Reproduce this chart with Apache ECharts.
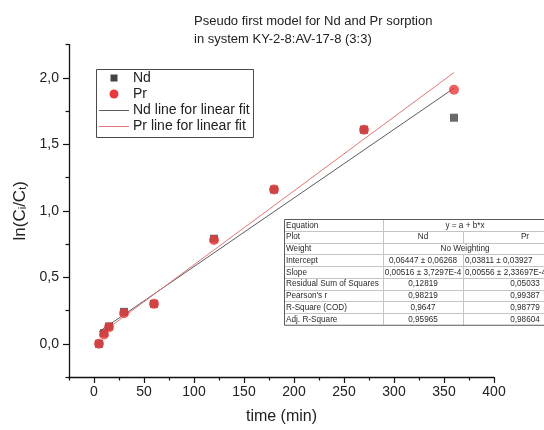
<!DOCTYPE html>
<html>
<head>
<meta charset="utf-8">
<style>
  html, body { margin: 0; padding: 0; background: #fff; }
  #chart { width: 544px; height: 430px; }
</style>
<script src="https://cdn.jsdelivr.net/npm/echarts@6/dist/echarts.min.js"></script>
</head>
<body>
<div id="chart"></div>
<script>
// Sampling times (min)
const times = [5, 10, 15, 30, 60, 120, 180, 270, 360];
// ln(Ci/Ct) for each metal
const ndValues = [0.00, 0.08, 0.13, 0.24, 0.30, 0.79, 1.16, 1.61, 1.70];
const prValues = [0.00, 0.07, 0.125, 0.23, 0.30, 0.78, 1.16, 1.61, 1.91];

// Linear fit parameters y = a + b*x  [Nd, Pr]
const fitNames = ['Nd', 'Pr'];
const fitIntercept = [0.06447, 0.03811];
const fitInterceptErr = ['0,06268', '0,03927'];
const fitSlope = [0.00516, 0.00556];
const fitSlopeErr = ['3,7297E-4', '2,33697E-4'];
const fitRSS = ['0,12819', '0,05033'];
const fitPearson = ['0,98219', '0,99387'];
const fitR2 = ['0,9647', '0,98779'];
const fitAdjR2 = ['0,95965', '0,98604'];

// Tick labels
const xMajorTicks = [0, 50, 100, 150, 200, 250, 300, 350, 400];
const xMinorTicks = [-25, 25, 75, 125, 175, 225, 275, 325, 375];
const yMajorTicks = [0, 0.5, 1.0, 1.5, 2.0];
const yMinorTicks = [-0.25, 0.25, 0.75, 1.25, 1.75, 2.25];

// Legend entries
const legendNames = ['Nd', 'Pr', 'Nd line for linear fit', 'Pr line for linear fit'];

const FONT = '"Liberation Sans", Arial, sans-serif';
const ND_COLOR = '#444444';
const PR_COLOR = '#e8393b';
const ND_LINE = '#5c5c5c';
const PR_LINE = '#e37477';
const comma = v => String(v).replace('.', ',');

const pair = (arr1, arr2) => arr1.map((v, i) => [v, arr2[i]]);
const fitLine = k => {
  const x0 = times[0], x1 = times[times.length - 1];
  return [[x0, fitIntercept[k] + fitSlope[k] * x0], [x1, fitIntercept[k] + fitSlope[k] * x1]];
};

// Legend box with symbol / line keys
function buildLegend() {
  const left = 96, top = 69, w = 157, h = 68;
  const rowsY = [78, 94, 110, 126];
  const els = [];
  els.push({ type: 'rect', shape: { x: left + 0.5, y: top + 0.5, width: w, height: h },
    style: { fill: '#fff', stroke: '#4a4a4a', lineWidth: 1 }, z: 10 });
  els.push({ type: 'rect', shape: { x: 110.5, y: rowsY[0] - 3.5, width: 7, height: 7 },
    style: { fill: ND_COLOR }, z: 11 });
  els.push({ type: 'circle', shape: { cx: 114, cy: rowsY[1], r: 4.5 },
    style: { fill: PR_COLOR }, z: 11 });
  els.push({ type: 'line', shape: { x1: 99, y1: rowsY[2] + 0.5, x2: 129, y2: rowsY[2] + 0.5 },
    style: { stroke: ND_LINE, lineWidth: 1 }, z: 11 });
  els.push({ type: 'line', shape: { x1: 99, y1: rowsY[3] + 0.5, x2: 129, y2: rowsY[3] + 0.5 },
    style: { stroke: PR_LINE, lineWidth: 1 }, z: 11 });
  legendNames.forEach((n, i) => {
    els.push({ type: 'text', x: 133, y: rowsY[i] + 0.5,
      style: { text: n, fontFamily: FONT, fontSize: 14, fill: '#222', align: 'left', verticalAlign: 'middle' }, z: 11 });
  });
  return els;
}

// Fit results table
function buildTable() {
  const left = 284, top = 219, rowH = 11.75;
  const c1 = 383, c2 = 463, right = 587;
  const rows = [
    ['Equation', 'y = a + b*x', null],
    ['Plot', fitNames[0], fitNames[1]],
    ['Weight', 'No Weighting', null],
    ['Intercept', comma(fitIntercept[0]) + ' \u00b1 ' + fitInterceptErr[0], comma(fitIntercept[1]) + ' \u00b1 ' + fitInterceptErr[1]],
    ['Slope', comma(fitSlope[0]) + ' \u00b1 ' + fitSlopeErr[0], comma(fitSlope[1]) + ' \u00b1 ' + fitSlopeErr[1]],
    ['Residual Sum of Squares', fitRSS[0], fitRSS[1]],
    ["Pearson's r", fitPearson[0], fitPearson[1]],
    ['R-Square (COD)', fitR2[0], fitR2[1]],
    ['Adj. R-Square', fitAdjR2[0], fitAdjR2[1]]
  ];
  const bottom = top + rowH * rows.length;
  const els = [];
  els.push({ type: 'rect', shape: { x: left, y: top, width: right - left, height: bottom - top },
    style: { fill: '#fff', stroke: 'none' }, z: 10 });
  const thin = { stroke: '#c4c4c4', lineWidth: 1 };
  for (let i = 1; i < rows.length; i++) {
    const y = Math.round(top + rowH * i) + 0.5;
    els.push({ type: 'line', shape: { x1: left, y1: y, x2: right, y2: y }, style: thin, z: 11 });
  }
  els.push({ type: 'line', shape: { x1: c1 + 0.5, y1: top, x2: c1 + 0.5, y2: bottom }, style: thin, z: 11 });
  const ts = { fontFamily: FONT, fontSize: 8.2, fill: '#2a2a2a', verticalAlign: 'middle' };
  rows.forEach((r, i) => {
    const y0 = top + rowH * i;
    if (r[2] !== null) {
      els.push({ type: 'line', shape: { x1: c2 + 0.5, y1: Math.round(y0) + 0.5, x2: c2 + 0.5, y2: Math.round(y0 + rowH) + 0.5 }, style: thin, z: 11 });
    }
    const ty = y0 + rowH / 2 + 0.5;
    els.push({ type: 'text', x: left + 2, y: ty, style: Object.assign({ text: r[0], align: 'left' }, ts), z: 12 });
    if (r[2] === null) {
      els.push({ type: 'text', x: 465, y: ty, style: Object.assign({ text: r[1], align: 'center' }, ts), z: 12 });
    } else {
      els.push({ type: 'text', x: (c1 + c2) / 2, y: ty, style: Object.assign({ text: r[1], align: 'center' }, ts), z: 12 });
      // long entries start at the cell edge, short ones are centred
      const long = r[2].length > 10;
      els.push({ type: 'text', x: long ? c2 + 2 : 525, y: ty,
        style: Object.assign({ text: r[2], align: long ? 'left' : 'center' }, ts), z: 12 });
    }
  });
  els.push({ type: 'rect', shape: { x: left + 0.5, y: top + 0.5, width: right - left, height: bottom - top },
    style: { fill: 'none', stroke: '#5a5a5a', lineWidth: 1 }, z: 13 });
  return els;
}

const chart = echarts.init(document.getElementById('chart'), null, { renderer: 'canvas' });

const axisText = { fontFamily: FONT, fontSize: 14, color: '#222' };
const axisLineStyle = { color: '#111', width: 1.3 };
const tickStyle = { color: '#111', width: 1.2 };

chart.setOption({
  animation: false,
  backgroundColor: '#fff',
  textStyle: { fontFamily: FONT },
  title: {
    text: 'Pseudo first model for Nd and Pr sorption\nin system KY-2-8:AV-17-8 (3:3)',
    left: 189, top: 7,
    textStyle: { fontFamily: FONT, fontSize: 13, fontWeight: 'normal', color: '#222', lineHeight: 18 }
  },
  grid: { left: 69, top: 44.6, width: 425, height: 333.75 },
  xAxis: [
    {
      type: 'value', min: -25, max: 400,
      splitLine: { show: false },
      axisLine: { onZero: false, lineStyle: axisLineStyle },
      axisTick: { customValues: xMajorTicks, length: 6, lineStyle: tickStyle },
      axisLabel: Object.assign({ customValues: xMajorTicks, margin: 8 }, axisText),
      name: 'time (min)', nameLocation: 'middle', nameGap: 32,
      nameTextStyle: { fontFamily: FONT, fontSize: 16, color: '#222' }
    },
    {
      type: 'value', min: -25, max: 400, position: 'bottom',
      splitLine: { show: false },
      axisLine: { show: false, onZero: false },
      axisTick: { customValues: xMinorTicks, length: 3.5, lineStyle: tickStyle },
      axisLabel: { show: false }
    }
  ],
  yAxis: [
    {
      type: 'value', min: -0.25, max: 2.25,
      splitLine: { show: false },
      axisLine: { show: true, onZero: false, lineStyle: axisLineStyle },
      axisTick: { show: true, customValues: yMajorTicks, length: 6, lineStyle: tickStyle },
      axisLabel: Object.assign({ customValues: yMajorTicks, margin: 10, formatter: v => v.toFixed(1).replace('.', ',') }, axisText),
      name: '{n|ln(C}{s|i}{n|/C}{s|t}{n|)}',
      nameLocation: 'middle', nameGap: 38, nameRotate: 90,
      nameTextStyle: {
        rich: {
          n: { fontFamily: FONT, fontSize: 17, color: '#222' },
          s: { fontFamily: FONT, fontSize: 11, color: '#222', verticalAlign: 'bottom', padding: [6, 0, 0, 0] }
        }
      }
    },
    {
      type: 'value', min: -0.25, max: 2.25, position: 'left',
      splitLine: { show: false },
      axisLine: { show: false, onZero: false },
      axisTick: { show: true, customValues: yMinorTicks, length: 3.5, lineStyle: tickStyle },
      axisLabel: { show: false }
    }
  ],
  series: [
    {
      name: 'Nd', type: 'scatter', symbol: 'rect', symbolSize: 8,
      itemStyle: { color: ND_COLOR }, z: 3,
      data: pair(times, ndValues)
    },
    {
      name: 'Pr', type: 'scatter', symbol: 'circle', symbolSize: 10,
      itemStyle: { color: PR_COLOR }, z: 4,
      data: pair(times, prValues)
    },
    {
      name: 'Nd line for linear fit', type: 'line', symbol: 'none',
      lineStyle: { color: ND_LINE, width: 1 }, itemStyle: { color: ND_LINE }, z: 2,
      data: fitLine(0)
    },
    {
      name: 'Pr line for linear fit', type: 'line', symbol: 'none',
      lineStyle: { color: PR_LINE, width: 1 }, itemStyle: { color: PR_LINE }, z: 2,
      data: fitLine(1)
    }
  ],
  graphic: buildLegend().concat(buildTable())
});
</script>
</body>
</html>
